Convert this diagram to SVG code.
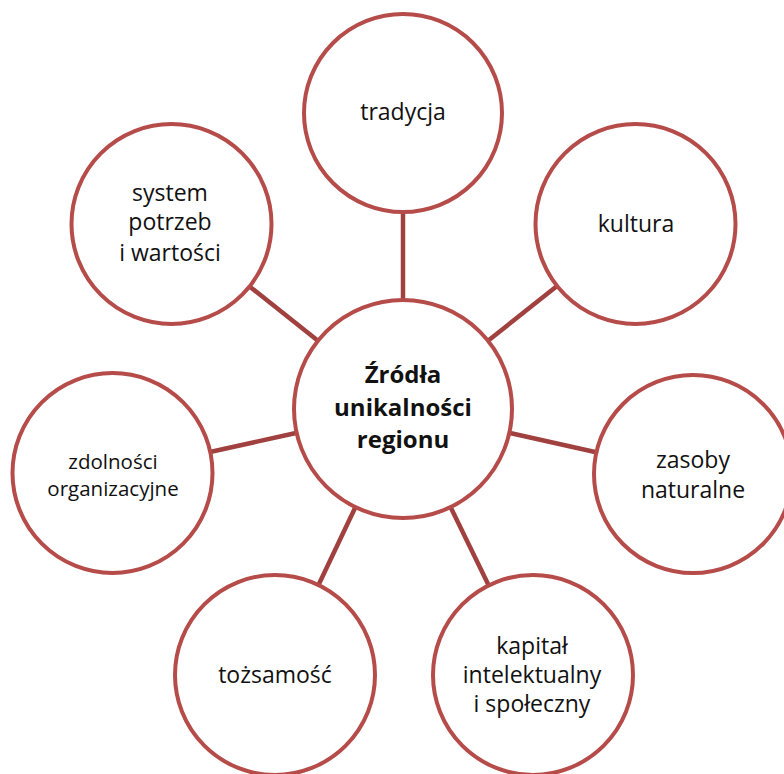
<svg xmlns="http://www.w3.org/2000/svg" width="784" height="774" viewBox="0 0 784 774">
<style>
.c{fill:#fff;stroke:#b54c49;stroke-width:4}
.l{stroke:#a0413f;stroke-width:4.5;fill:none}
text{font-family:"Open Sans","Noto Sans","DejaVu Sans",sans-serif;font-size:23px;fill:#111;text-anchor:middle}
.b{font-weight:bold;font-size:24px}
.s{font-size:20.5px}
</style>
<rect width="784" height="774" fill="#fff"/>
<g id="connectors">
<line class="l" x1="403" y1="299" x2="403" y2="212"/>
<line class="l" x1="317" y1="340" x2="249" y2="286"/>
<line class="l" x1="489" y1="340" x2="557" y2="286"/>
<line class="l" x1="296" y1="433" x2="210" y2="452"/>
<line class="l" x1="510" y1="433" x2="595" y2="452"/>
<line class="l" x1="355" y1="508" x2="318" y2="586"/>
<line class="l" x1="451" y1="508" x2="489" y2="586"/>
</g>
<g id="center">
<circle class="c" cx="403" cy="409" r="109"/>
<text class="b" x="403" y="383">Źródła</text>
<text class="b" x="403" y="416">unikalności</text>
<text class="b" x="403" y="448">regionu</text>
</g>
<g id="tradycja">
<circle class="c" cx="403" cy="113" r="99"/>
<text x="403" y="120">tradycja</text>
</g>
<g id="kultura">
<circle class="c" cx="635.5" cy="224" r="100"/>
<text x="636" y="232">kultura</text>
</g>
<g id="system">
<circle class="c" cx="171.5" cy="224" r="100"/>
<text x="170" y="201">system</text>
<text x="170" y="230">potrzeb</text>
<text x="170" y="261">i wartości</text>
</g>
<g id="zdolnosci">
<circle class="c" cx="112.5" cy="473" r="100"/>
<text class="s" x="113" y="469">zdolności</text>
<text class="s" x="113" y="496">organizacyjne</text>
</g>
<g id="zasoby">
<circle class="c" cx="693" cy="474" r="99"/>
<text x="693" y="468">zasoby</text>
<text x="693" y="498">naturalne</text>
</g>
<g id="tozsamosc">
<circle class="c" cx="275" cy="675" r="100"/>
<text x="275" y="683">tożsamość</text>
</g>
<g id="kapital">
<circle class="c" cx="533" cy="675" r="100"/>
<text x="532" y="654">kapitał</text>
<text x="532" y="683">intelektualny</text>
<text x="532" y="712">i społeczny</text>
</g>
</svg>
